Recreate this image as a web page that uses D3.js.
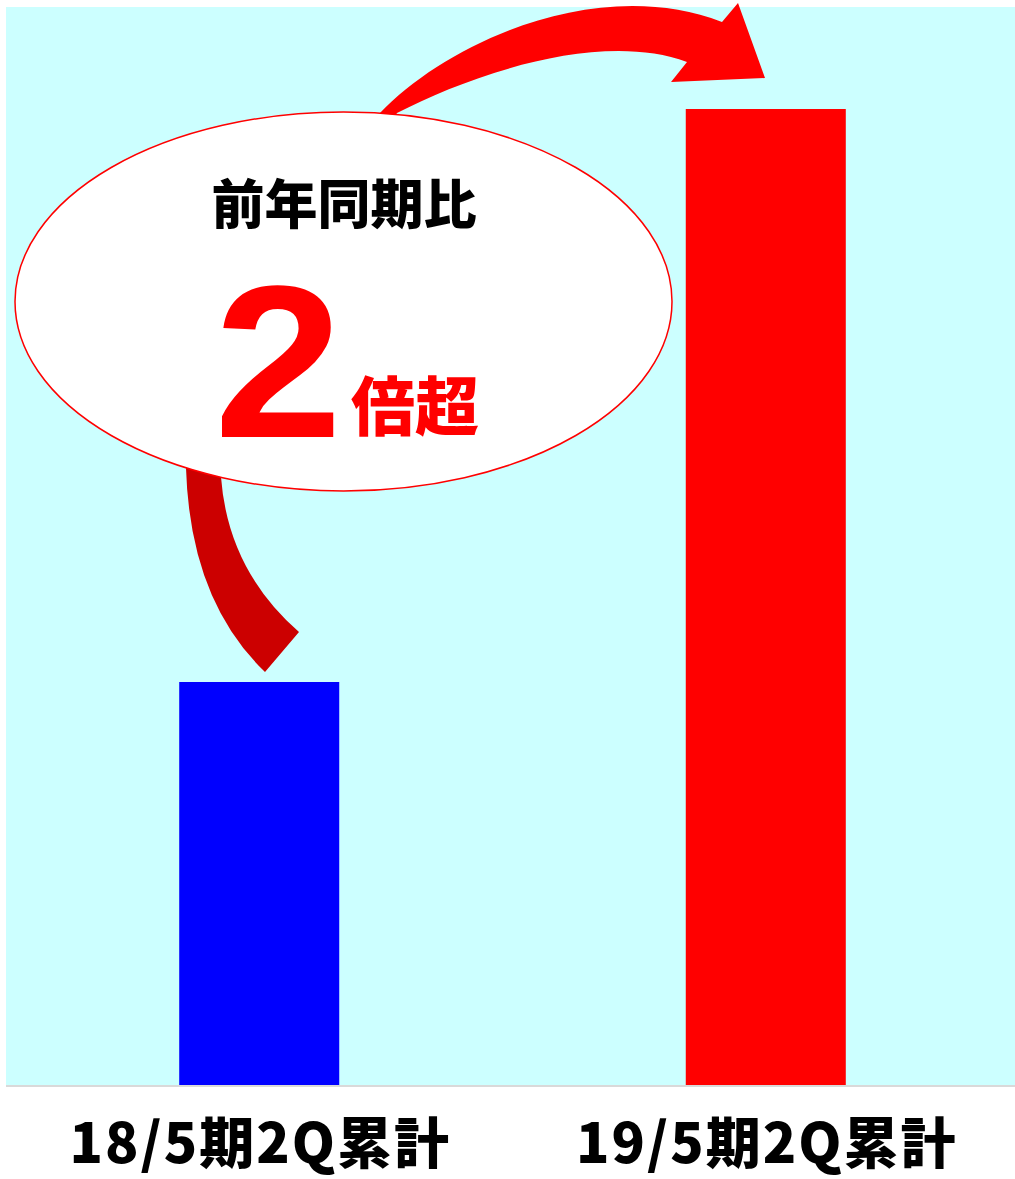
<!DOCTYPE html>
<html>
<head>
<meta charset="utf-8">
<script src="https://cdn.jsdelivr.net/npm/d3@7"></script>
<style>
  body { margin: 0; background: #fff; }
  .axis text { font-family: "Noto Sans CJK JP", sans-serif; font-weight: 900; fill: #000; }
</style>
</head>
<body>
<svg id="chart" width="1015" height="1179"></svg>
<script>
// data
const categories = ["18/5期2Q累計", "19/5期2Q累計"];
const values = [403, 976];
const barColors = ["#0000FF", "#FF0000"];
const calloutTitle = "前年同期比";
const calloutNumber = "2";
const calloutUnit = "倍超";

class barcompare {
    constructor(config) {
        this.rootId = config.rootId;
        this.dimension = config.dimension;
        this.plot = config.plot;
        this.createScale();
        this.render();
    }
    createScale() {
        this.scale = {
            x: d3.scaleBand().domain(categories).range([8, 1017]).paddingInner(0.6841).paddingOuter(0.338),
            y: d3.scaleLinear().domain([0, 1078]).range([this.plot.bottom, this.plot.top])
        }
    }
    render() {
        const self = this;
        const svg = d3.select(`#${self.rootId}`);

        // plot background
        svg.append("rect")
            .attr("x", self.plot.left)
            .attr("y", self.plot.top)
            .attr("width", self.plot.right - self.plot.left)
            .attr("height", self.plot.bottom - self.plot.top)
            .attr("fill", "#CCFFFF");

        svg.append("line")
            .attr("x1", self.plot.left).attr("x2", self.plot.right)
            .attr("y1", self.plot.bottom + 1).attr("y2", self.plot.bottom + 1)
            .attr("stroke", "#d9d9d9")
            .attr("stroke-width", 2);

        svg.selectAll(".bar")
            .data(values)
            .enter()
            .append("rect")
            .attr("class", "bar")
            .attr("x", (d, i) => self.scale.x(categories[i]))
            .attr("y", d => self.scale.y(d))
            .attr("width", self.scale.x.bandwidth())
            .attr("height", d => self.scale.y(0) - self.scale.y(d))
            .attr("fill", (d, i) => barColors[i]);

        self._axis();
        self._callout();
    }
    _axis() {
        const self = this;
        const svg = d3.select(`#${self.rootId}`);
        const x = d3.axisBottom(self.scale.x)
            .tickSize(0)
            .tickPadding(0);

        const g = svg.append("g")
            .attr("class", "axis x")
            .attr("transform", `translate(0,${self.plot.bottom})`)
            .call(x);
        g.select(".domain").remove();
        g.selectAll("text")
            .attr("dy", null)
            .attr("y", 78)
            .attr("font-size", 55)
            .attr("letter-spacing", 2)
            .attr("dx", 1);
    }
    _callout() {
        const self = this;
        const svg = d3.select(`#${self.rootId}`);

        // tail of the arrow, leaving the blue bar
        const tail = d3.path();
        tail.moveTo(183, 445);
        tail.lineTo(186, 468);
        tail.quadraticCurveTo(190, 600, 265, 672);
        tail.lineTo(299, 632);
        tail.quadraticCurveTo(228, 570, 221, 477);
        tail.lineTo(219, 445);
        tail.closePath();
        svg.append("path").attr("d", tail.toString()).attr("fill", "#CC0000");

        // head of the arrow, pointing at the red bar
        const head = d3.path();
        head.moveTo(372, 124);
        head.lineTo(380, 113);
        head.bezierCurveTo(450, 40, 600, -25, 722, 22);
        head.lineTo(738, 3);
        head.lineTo(765, 78);
        head.lineTo(671, 82);
        head.lineTo(687, 62);
        head.bezierCurveTo(600, 30, 470, 75, 397, 113);
        head.lineTo(390, 124);
        head.closePath();
        svg.append("path").attr("d", head.toString()).attr("fill", "#FF0000");

        svg.append("ellipse")
            .attr("cx", 343.5)
            .attr("cy", 301.5)
            .attr("rx", 328.5)
            .attr("ry", 189.5)
            .attr("fill", "#fff")
            .attr("stroke", "#FF0000")
            .attr("stroke-width", 1.5);

        svg.append("text")
            .attr("x", 344)
            .attr("y", 224)
            .attr("text-anchor", "middle")
            .attr("font-family", "'Noto Sans CJK JP', sans-serif")
            .attr("font-weight", 900)
            .attr("font-size", 53)
            .attr("fill", "#000")
            .text(calloutTitle);

        svg.append("text")
            .attr("transform", "translate(214,437) scale(1.06,1)")
            .attr("font-family", "'Liberation Sans', Arial, sans-serif")
            .attr("font-weight", "bold")
            .attr("font-size", 218)
            .attr("fill", "#FF0000")
            .text(calloutNumber);

        svg.append("text")
            .attr("x", 351)
            .attr("y", 430)
            .attr("font-family", "'Noto Sans CJK JP', sans-serif")
            .attr("font-weight", 900)
            .attr("font-size", 64)
            .attr("fill", "#FF0000")
            .text(calloutUnit);
    }
}

new barcompare({
    rootId: "chart",
    dimension: { width: 1015, height: 1179 },
    plot: { left: 6, right: 1015, top: 7, bottom: 1085 }
});
</script>
</body>
</html>
